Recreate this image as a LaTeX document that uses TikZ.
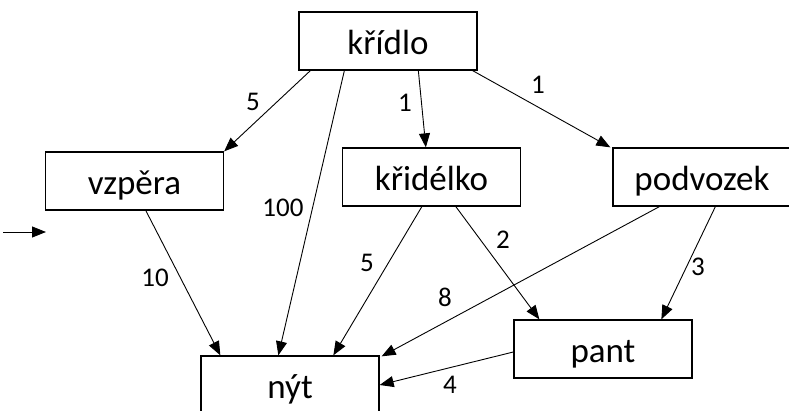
\documentclass[tikz,border=0pt]{standalone}
\usepackage{fontspec}
\setmainfont{Carlito}
\usetikzlibrary{arrows.meta}
\begin{document}
\begin{tikzpicture}[x=1pt,y=-1pt,
  box/.style={draw=black,line width=1.3pt,minimum width=178pt,minimum height=58pt,inner sep=0pt,text height=27pt,text depth=0pt,font=\fontsize{35}{40}\selectfont},
  edge/.style={line width=0.9pt,-{Triangle[length=14pt,width=11pt]}},
  lbl/.style={font=\fontsize{27}{32}\selectfont,inner sep=0pt}]
\useasboundingbox (0,0) rectangle (789,411);
\clip (0,0) rectangle (789,411);
\node[box] (kridlo) at (388,41) {křídlo};
\node[box] (vzpera) at (134.5,181) {vzpěra};
\node[box] (kridelko) at (431.5,177) {křidélko};
\node[box] (podvozek) at (702,177) {podvozek};
\node[box] (pant) at (603,349) {pant};
\node[box] (nyt) at (290,385) {nýt};
\coordinate (inA) at (3,232);
\coordinate (inB) at (46,232);
\draw[edge] (inA) -- (inB);
\draw[edge] ([xshift=12pt]kridlo.south west) -- (vzpera.north east);
\draw[edge] ([xshift=46pt]kridlo.south west) -- ([xshift=78pt]nyt.north west);
\draw[edge] ([xshift=120pt]kridlo.south west) -- ([xshift=84pt]kridelko.north west);
\draw[edge] ([xshift=-5pt]kridlo.south east) -- ([xshift=-2pt]podvozek.north west);
\draw[edge] ([xshift=101pt]vzpera.south west) -- ([xshift=20pt]nyt.north west);
\draw[edge] ([xshift=80pt]kridelko.south west) -- ([xshift=133pt]nyt.north west);
\draw[edge] ([xshift=114pt]kridelko.south west) -- ([xshift=26pt]pant.north west);
\draw[edge] ([xshift=47pt]podvozek.south west) -- ([xshift=2pt,yshift=-1pt]nyt.north east);
\draw[edge] ([xshift=103pt]podvozek.south west) -- ([xshift=148pt]pant.north west);
\draw[edge] ([yshift=-3pt]pant.west) -- (nyt.east);
\node[lbl] (l1) at (253,102) {5};
\node[lbl] (l2) at (283,208) {100};
\node[lbl] (l3) at (405,103) {1};
\node[lbl] (l4) at (538,85) {1};
\node[lbl] (l5) at (155,278) {10};
\node[lbl] (l6) at (367,263) {5};
\node[lbl] (l7) at (503,240) {2};
\node[lbl] (l8) at (445,297) {8};
\node[lbl] (l9) at (698,267) {3};
\node[lbl] (l10) at (450,385) {4};
\end{tikzpicture}
\end{document}
